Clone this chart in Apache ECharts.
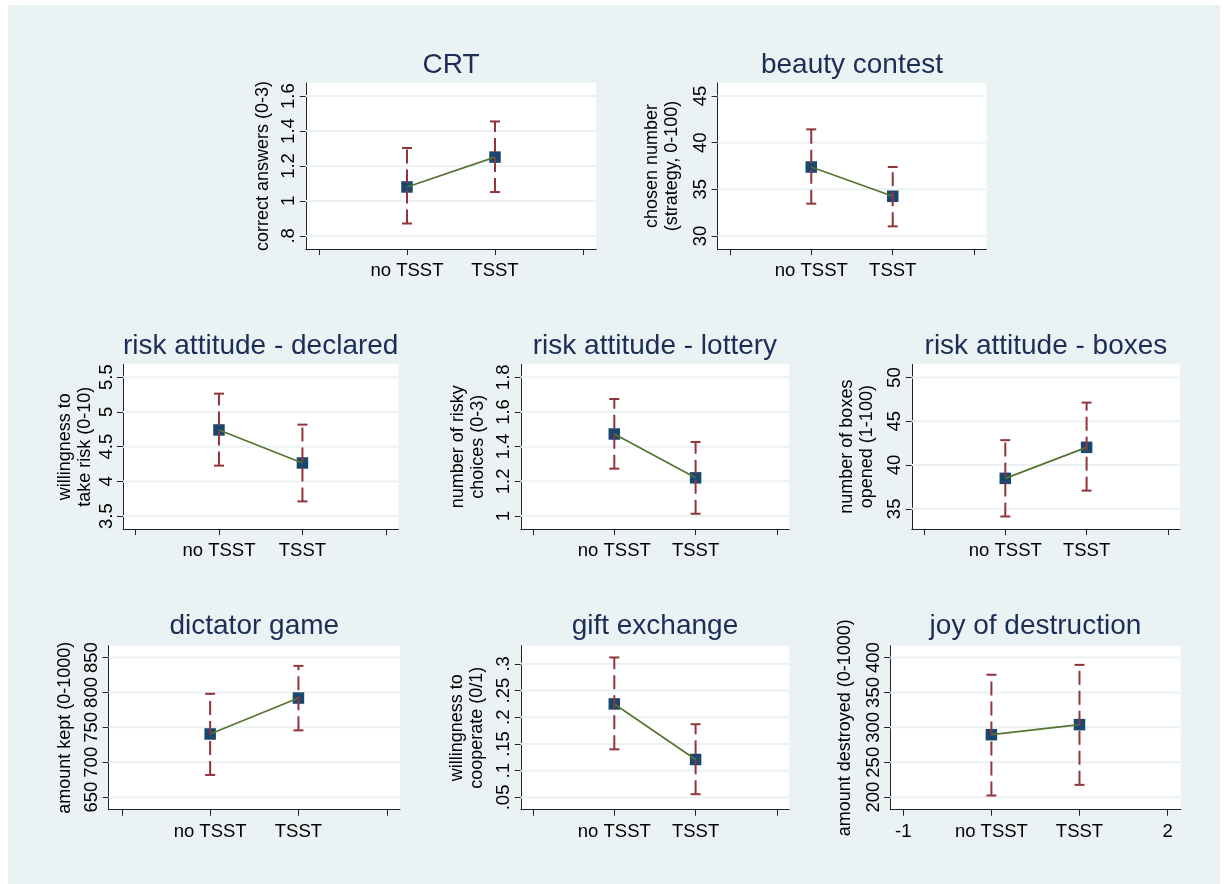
<!DOCTYPE html>
<html><head><meta charset="utf-8">
<script src="https://cdn.jsdelivr.net/npm/echarts@6/dist/echarts.min.js"></script>
<style>
html,body{margin:0;padding:0;background:#fff;}
#bg{position:absolute;left:8px;top:5px;width:1212px;height:879px;background:#EAF2F3;}
#chart{position:absolute;left:0;top:0;width:1225px;height:884px;}
</style></head><body><div id="bg"></div><div id="chart"></div>
<script>
// ---------- data ----------
const categories = ['no TSST', 'TSST'];
const panelTitles = ['CRT', 'beauty contest', 'risk attitude - declared', 'risk attitude - lottery',
  'risk attitude - boxes', 'dictator game', 'gift exchange', 'joy of destruction'];
const yTitles = ['correct answers (0-3)', 'chosen number\n(strategy, 0-100)', 'willingness to\ntake risk (0-10)',
  'number of risky\nchoices (0-3)', 'number of boxes\nopened (1-100)', 'amount kept (0-1000)',
  'willingness to\ncooperate (0/1)', 'amount destroyed (0-1000)'];
// means for [no TSST, TSST]
const meanValues = [
  [1.08, 1.251], [37.39, 34.25], [4.74, 4.265], [1.473, 1.22],
  [38.48, 42.02], [740.5, 792], [0.225, 0.121], [289.5, 303.9]
];
const ciLower = [
  [0.871, 1.051], [33.46, 31.03], [4.227, 3.712], [1.273, 1.013],
  [34.13, 37.08], [681.8, 745.7], [0.140, 0.056], [202.3, 217.6]
];
const ciUpper = [
  [1.303, 1.455], [41.43, 37.39], [5.263, 4.817], [1.675, 1.427],
  [42.84, 47.13], [798.1, 838.1], [0.312, 0.187], [375.4, 389.5]
];
const yTickValues = [
  [0.8, 1, 1.2, 1.4, 1.6], [30, 35, 40, 45], [3.5, 4, 4.5, 5, 5.5], [1, 1.2, 1.4, 1.6, 1.8],
  [35, 40, 45, 50], [650, 700, 750, 800, 850], [0.05, 0.1, 0.15, 0.2, 0.25, 0.3], [200, 250, 300, 350, 400]
];
const yRanges = [
  [0.725, 1.675], [28.6, 46.4], [3.315, 5.685], [0.925, 1.875],
  [32.7, 51.5], [632, 867], [0.027, 0.334], [182, 417]
];
const xTickValues = [-1, 0, 1, 2];
const xRange = [-1.15, 2.15];
const xLabelValues = [[0, 1], [0, 1], [0, 1], [0, 1], [0, 1], [0, 1], [0, 1], [-1, 0, 1, 2]];

// ---------- layout (px) ----------
const layout = [
  {left: 305.8, top: 83, width: 290.4, height: 166, nameCenter: 263.3},
  {left: 717.6, top: 83, width: 268.8, height: 166, nameCenter: 661.7},
  {left: 123, top: 364.3, width: 275.4, height: 164.7, nameCenter: 75.5},
  {left: 520.8, top: 364.3, width: 268.3, height: 164.7, nameCenter: 468},
  {left: 911.8, top: 364.3, width: 268.3, height: 164.7, nameCenter: 856.7},
  {left: 108.6, top: 645.7, width: 291.4, height: 164, nameCenter: 65},
  {left: 520.8, top: 645.7, width: 268.3, height: 164, nameCenter: 466.7},
  {left: 890.1, top: 645.7, width: 290.7, height: 164, nameCenter: 845}
];

const FONT = '"Liberation Sans", Arial, Helvetica, sans-serif';
const navy = '#1A476F', maroon = '#90353B', green = '#55752F';
const gridColor = '#EAF2F3', axisColor = '#222222', titleColor = '#1c2d57';
const nameLineHeight = 20;

function fmtNum(v) {
  let s = String(v);
  if (s.startsWith('0.')) s = s.slice(1);
  return s;
}
function xLabel(v) {
  if (v === 0) return categories[0];
  if (v === 1) return categories[1];
  return String(v);
}

function renderGridLine(params, api) {
  const y = api.coord([0, api.value(1)])[1];
  const cs = params.coordSys;
  return {type: 'line', shape: {x1: cs.x, y1: y, x2: cs.x + cs.width, y2: y},
    style: {stroke: gridColor, lineWidth: 2}};
}
function renderCI(params, api) {
  const x = api.value(0), lo = api.value(1), hi = api.value(2);
  const pt = api.coord([x, hi]), pb = api.coord([x, lo]);
  const cap = 5;
  const st = {stroke: maroon, lineWidth: 2};
  return {type: 'group', children: [
    {type: 'line', shape: {x1: pb[0], y1: pb[1], x2: pt[0], y2: pt[1]}, style: Object.assign({lineDash: [14, 6]}, st)},
    {type: 'line', shape: {x1: pt[0] - cap, y1: pt[1], x2: pt[0] + cap, y2: pt[1]}, style: st},
    {type: 'line', shape: {x1: pb[0] - cap, y1: pb[1], x2: pb[0] + cap, y2: pb[1]}, style: st}
  ]};
}

const grids = [], xAxes = [], yAxes = [], series = [], graphics = [];
layout.forEach((L, i) => {
  grids.push({left: L.left, top: L.top, width: L.width, height: L.height,
    show: true, backgroundColor: '#ffffff', borderWidth: 0, containLabel: false});
  xAxes.push({
    type: 'value', gridIndex: i, min: xRange[0], max: xRange[1],
    axisLine: {show: true, onZero: false, lineStyle: {color: axisColor, width: 1}},
    axisTick: {show: true, length: 6, customValues: xTickValues, lineStyle: {color: axisColor, width: 1}},
    axisLabel: {show: true, customValues: xLabelValues[i], formatter: xLabel, margin: 12.5,
      fontFamily: FONT, fontSize: 18.5, color: '#000'},
    splitLine: {show: false}
  });
  const nLines = yTitles[i].split('\n').length;
  yAxes.push({
    type: 'value', gridIndex: i, min: yRanges[i][0], max: yRanges[i][1],
    name: yTitles[i], nameLocation: 'middle', nameRotate: 90,
    nameGap: L.left - L.nameCenter - nLines * nameLineHeight / 2,
    nameTextStyle: {fontFamily: FONT, fontSize: 18, color: '#000', lineHeight: nameLineHeight},
    axisLine: {show: true, onZero: false, lineStyle: {color: axisColor, width: 1}},
    axisTick: {show: true, length: 6, customValues: yTickValues[i], lineStyle: {color: axisColor, width: 1}},
    axisLabel: {show: true, customValues: yTickValues[i], rotate: 90, margin: 7, formatter: fmtNum,
      fontFamily: FONT, fontSize: 18.5, color: '#000'},
    splitLine: {show: false}
  });
  series.push({
    type: 'custom', xAxisIndex: i, yAxisIndex: i, z: 1, silent: true,
    data: yTickValues[i].map(v => [0, v]), encode: {x: 0, y: 1}, renderItem: renderGridLine, clip: false
  });
  series.push({
    type: 'scatter', xAxisIndex: i, yAxisIndex: i, z: 2, silent: true,
    symbol: 'rect', symbolSize: 11.5, itemStyle: {color: navy, opacity: 1},
    data: meanValues[i].map((v, k) => [k, v])
  });
  series.push({
    type: 'line', xAxisIndex: i, yAxisIndex: i, z: 3, silent: true, showSymbol: false, symbol: 'none',
    lineStyle: {color: green, width: 1.7},
    data: meanValues[i].map((v, k) => [k, v])
  });
  series.push({
    type: 'custom', xAxisIndex: i, yAxisIndex: i, z: 4, silent: true,
    data: meanValues[i].map((v, k) => [k, ciLower[i][k], ciUpper[i][k]]),
    encode: {x: 0, y: [1, 2]}, renderItem: renderCI, clip: false
  });
  const titleY = (i < 2 ? 73.3 : (i < 5 ? 354.3 : 635)) - 8.5;
  graphics.push({type: 'text', x: L.left + L.width / 2, y: titleY, silent: true,
    style: {text: panelTitles[i], fill: titleColor, font: '28px ' + FONT, align: 'center', verticalAlign: 'middle'}});
});

const chart = echarts.init(document.getElementById('chart'), null, {renderer: 'canvas'});
chart.setOption({
  animation: false,
  backgroundColor: 'transparent',
  grid: grids, xAxis: xAxes, yAxis: yAxes, series: series,
  graphic: graphics
});
</script></body></html>
